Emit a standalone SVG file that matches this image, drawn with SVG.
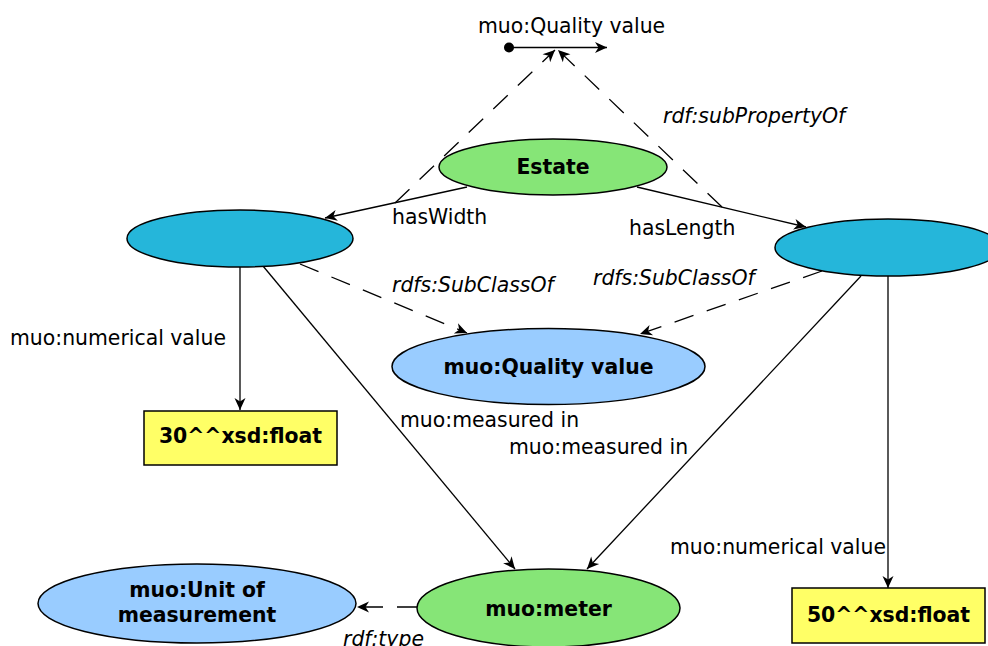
<svg xmlns="http://www.w3.org/2000/svg" width="988" height="646" viewBox="0 0 988 646">
  <style>
    .lbl { font-family: "DejaVu Sans", sans-serif; font-size: 20.4px; fill: #000; }
    .it { font-style: italic; }
    .nt { font-family: "DejaVu Sans", sans-serif; font-size: 20.4px; font-weight: bold; fill: #000; text-anchor: middle; }
    .edge { fill: none; stroke: #000; stroke-width: 1.3; }
    .dash { stroke-dasharray: 20 14; }
    .shape { stroke: #000; stroke-width: 1.5; }
  </style>
  <defs>
    <marker id="arr" viewBox="-13 -6 14 12" markerWidth="14" markerHeight="12" refX="0" refY="0" orient="auto" markerUnits="userSpaceOnUse">
      <path d="M0,0 L-12,-5.5 L-8.5,0 L-12,5.5 Z" fill="#000"/>
    </marker>
  </defs>

  <!-- connectors -->
  <g id="connectors">
    <!-- property line with subject dot -->
    <circle cx="509" cy="47.5" r="5" fill="#000"/>
    <path class="edge" d="M509,47.5 H607" marker-end="url(#arr)"/>
    <!-- sub-property links -->
    <path class="edge dash" d="M395,203 L555,50" marker-end="url(#arr)"/>
    <path class="edge dash" d="M722,207 L558,50" marker-end="url(#arr)"/>
    <!-- hasWidth / hasLength -->
    <path class="edge" d="M467,187 L325,218" marker-end="url(#arr)"/>
    <path class="edge" d="M637,187 L806,227" marker-end="url(#arr)"/>
    <!-- subclass links -->
    <path class="edge dash" d="M300,264 L467,333" marker-end="url(#arr)"/>
    <path class="edge dash" d="M822,271 L640,334" marker-end="url(#arr)"/>
    <!-- numerical values -->
    <path class="edge" d="M240,267 V410" marker-end="url(#arr)"/>
    <path class="edge" d="M888,276 V588" marker-end="url(#arr)"/>
    <!-- measured in -->
    <path class="edge" d="M263,266 L515,569" marker-end="url(#arr)"/>
    <path class="edge" d="M861,276 L587,569" marker-end="url(#arr)"/>
    <!-- type -->
    <path class="edge dash" d="M417,607 L357,607" marker-end="url(#arr)"/>

    <text class="lbl" x="478" y="33">muo:Quality value</text>
    <text class="lbl it" x="663" y="123">rdf:subPropertyOf</text>
    <text class="lbl" x="392" y="224">hasWidth</text>
    <text class="lbl" x="629" y="235">hasLength</text>
    <text class="lbl it" x="392" y="292">rdfs:SubClassOf</text>
    <text class="lbl it" x="593" y="285">rdfs:SubClassOf</text>
    <text class="lbl" x="10" y="345">muo:numerical value</text>
    <text class="lbl" x="400" y="427">muo:measured in</text>
    <text class="lbl" x="509" y="454">muo:measured in</text>
    <text class="lbl" x="670" y="554">muo:numerical value</text>
    <text class="lbl it" x="343" y="646">rdf:type</text>
  </g>

  <g id="estate">
    <ellipse class="shape" cx="553" cy="167" rx="114" ry="28" fill="#86e577"/>
    <text class="nt" x="553" y="174">Estate</text>
  </g>
  <g id="width">
    <ellipse class="shape" cx="240" cy="238.5" rx="113" ry="28.5" fill="#25b6da"/>
  </g>
  <g id="length">
    <ellipse class="shape" cx="888" cy="247.5" rx="113" ry="28.5" fill="#25b6da"/>
  </g>
  <g id="quality-value">
    <ellipse class="shape" cx="548.5" cy="366.5" rx="156.5" ry="38" fill="#99ccff"/>
    <text class="nt" x="548.5" y="374">muo:Quality value</text>
  </g>
  <g id="width-value">
    <rect class="shape" x="144" y="411" width="193" height="54" fill="#ffff66"/>
    <text class="nt" x="240.5" y="443">30^^xsd:float</text>
  </g>
  <g id="length-value">
    <rect class="shape" x="792" y="588" width="193" height="55" fill="#ffff66"/>
    <text class="nt" x="888.5" y="622">50^^xsd:float</text>
  </g>
  <g id="meter">
    <ellipse class="shape" cx="548.5" cy="608" rx="131.5" ry="39" fill="#86e577"/>
    <text class="nt" x="548.5" y="616">muo:meter</text>
  </g>
  <g id="unit">
    <ellipse class="shape" cx="197" cy="603.5" rx="159" ry="39.5" fill="#99ccff"/>
    <text class="nt" x="197" y="597">muo:Unit of</text>
    <text class="nt" x="197" y="622">measurement</text>
  </g>
</svg>
